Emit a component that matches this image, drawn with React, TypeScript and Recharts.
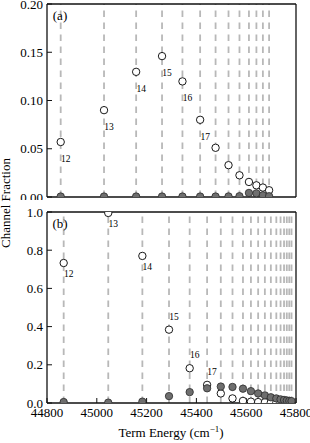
import React from 'react';
import { ScatterChart, Scatter, XAxis, YAxis, ReferenceLine } from 'recharts';

// (a) term energies (cm^-1), open / filled channel fractions
const energyA = [44855, 45029, 45158, 45262, 45344, 45415, 45477, 45529, 45573, 45611, 45641, 45667, 45692];
const openA = [0.057, 0.09, 0.1297, 0.146, 0.1198, 0.08, 0.051, 0.033, 0.0225, 0.0156, 0.0121, 0.0098, 0.007];
const filledA = [0.0005, 0.0005, 0.0005, 0.0005, 0.0005, 0.0005, 0.0005, 0.0006, 0.0008, 0.0042, 0.0038, 0.0018, 0.0008];
const labelsA = ['12', '13', '14', '15', '16', '17'];

// (b)
const energyB = [
  44867, 45046, 45183, 45290, 45373, 45443, 45498, 45545, 45587, 45619,
  45648, 45675, 45699, 45721, 45738, 45752, 45763, 45773, 45782,
];
const openB = [
  0.733, 0.995, 0.77, 0.384, 0.182, 0.095, 0.05, 0.024, 0.011, 0.007,
  0.005, 0.004, 0.003, 0.003, 0.002, 0.002, 0.002, 0.001, 0.001,
];
const filledB = [
  0.005, 0.002, 0.007, 0.036, 0.057, 0.077, 0.086, 0.084, 0.075, 0.062,
  0.05, 0.04, 0.03, 0.024, 0.019, 0.016, 0.013, 0.011, 0.01,
];
const labelsB = ['12', '13', '14', '15', '16', '17'];

const xTicks = [44800, 45000, 45200, 45400, 45600, 45800];
const yTicksA = [0, 0.05, 0.1, 0.15, 0.2];
const yTicksB = [0, 0.2, 0.4, 0.6, 0.8, 1.0];

const FONT = '"Liberation Serif", "DejaVu Serif", serif';
const AXIS = '#111';

function makeOpen(labelDy: (v: number) => number) {
  return (p: any) => {
    const { cx, cy, payload } = p;
    return (
      <g>
        <circle cx={cx} cy={cy} r={3.7} fill="#fff" stroke="#000" strokeWidth={0.9} />
        {payload.n && (
          <text
            x={cx + 5}
            y={cy + labelDy(payload.y)}
            textAnchor="middle"
            dominantBaseline="central"
            fontSize={9.5}
            fontFamily={FONT}
            fill="#000"
          >
            {payload.n}
          </text>
        )}
      </g>
    );
  };
}

const filledDot = (p: any) => (
  <circle cx={p.cx} cy={p.cy} r={3.7} fill="#6e6e6e" stroke="#2a2a2a" strokeWidth={0.8} />
);

interface PanelProps {
  energies: number[];
  open: number[];
  filled: number[];
  labels: string[];
  yTicks: number[];
  yMax: number;
  digits: number;
  height: number;
  marginTop: number;
  xAxisHeight: number;
  showXLabels: boolean;
  labelDy: (v: number) => number;
}

function Panel(props: PanelProps) {
  const openPts = props.energies.map((e, i) => ({ x: e, y: props.open[i], n: props.labels[i] }));
  const filledPts = props.energies.map((e, i) => ({ x: e, y: props.filled[i] }));
  const tickFont = { fill: '#000', fontSize: 13, fontFamily: FONT };

  return (
    <ScatterChart
      width={310}
      height={props.height}
      margin={{ top: props.marginTop, right: 13, bottom: 0, left: 0 }}
    >
      <XAxis
        type="number"
        dataKey="x"
        domain={[44800, 45800]}
        allowDataOverflow
        ticks={xTicks}
        interval={0}
        height={props.xAxisHeight}
        stroke={AXIS}
        axisLine={{ stroke: AXIS, strokeWidth: 1.3 }}
        tickSize={-5}
        tickMargin={props.showXLabels ? 10 : 0}
        tick={props.showXLabels ? tickFont : false}
      />
      <XAxis
        xAxisId="t"
        orientation="top"
        type="number"
        domain={[44800, 45800]}
        allowDataOverflow
        ticks={xTicks}
        interval={0}
        height={1}
        stroke={AXIS}
        axisLine={{ stroke: AXIS, strokeWidth: 1.3 }}
        tickSize={-5}
        tick={false}
      />
      <YAxis
        type="number"
        dataKey="y"
        domain={[0, props.yMax]}
        allowDataOverflow
        ticks={props.yTicks}
        interval={0}
        width={47}
        stroke={AXIS}
        axisLine={{ stroke: AXIS, strokeWidth: 1.3 }}
        tickSize={-5}
        tickMargin={9}
        tick={tickFont}
        tickFormatter={(v: number) => v.toFixed(props.digits)}
      />
      <YAxis
        yAxisId="r"
        orientation="right"
        type="number"
        domain={[0, props.yMax]}
        allowDataOverflow
        ticks={props.yTicks}
        interval={0}
        width={1}
        stroke={AXIS}
        axisLine={{ stroke: AXIS, strokeWidth: 1.3 }}
        tickSize={-5}
        tick={false}
      />
      {props.energies.map((e) => (
        <ReferenceLine
          key={e}
          x={e}
          stroke="#b8b8b8"
          strokeWidth={1.8}
          strokeDasharray="6.5 5.5"
        />
      ))}
      <Scatter data={openPts} shape={makeOpen(props.labelDy)} isAnimationActive={false} />
      <Scatter data={filledPts} shape={filledDot} isAnimationActive={false} />
    </ScatterChart>
  );
}

export default function App() {
  return (
    <div style={{ position: 'absolute', left: 0, top: 0, width: 310, height: 443, background: '#fff' }}>
      <div style={{ position: 'absolute', left: 0, top: 0 }}>
        <Panel
          energies={energyA}
          open={openA}
          filled={filledA}
          labels={labelsA}
          yTicks={yTicksA}
          yMax={0.2}
          digits={2}
          height={200}
          marginTop={3}
          xAxisHeight={3}
          showXLabels={false}
          labelDy={() => 17}
        />
      </div>
      <div style={{ position: 'absolute', left: 0, top: 207 }}>
        <Panel
          energies={energyB}
          open={openB}
          filled={filledB}
          labels={labelsB}
          yTicks={yTicksB}
          yMax={1.0}
          digits={1}
          height={236}
          marginTop={4}
          xAxisHeight={40}
          showXLabels={true}
          labelDy={(v) => (v > 0.5 ? 11 : -13)}
        />
      </div>
      <svg
        width={310}
        height={443}
        style={{ position: 'absolute', left: 0, top: 0, pointerEvents: 'none' }}
        fontFamily={FONT}
      >
        <text x={60} y={15} textAnchor="middle" dominantBaseline="central" fontSize={13}>(a)</text>
        <text x={60} y={223} textAnchor="middle" dominantBaseline="central" fontSize={13}>(b)</text>
        <text x={10} y={203} textAnchor="middle" fontSize={13} transform="rotate(-90 10 203)">
          Channel Fraction
        </text>
        <text x={171} y={437} textAnchor="middle" fontSize={13}>
          Term Energy (cm
          <tspan fontSize={9} dy={-5}>−1</tspan>
          <tspan dy={5}>)</tspan>
        </text>
      </svg>
    </div>
  );
}
